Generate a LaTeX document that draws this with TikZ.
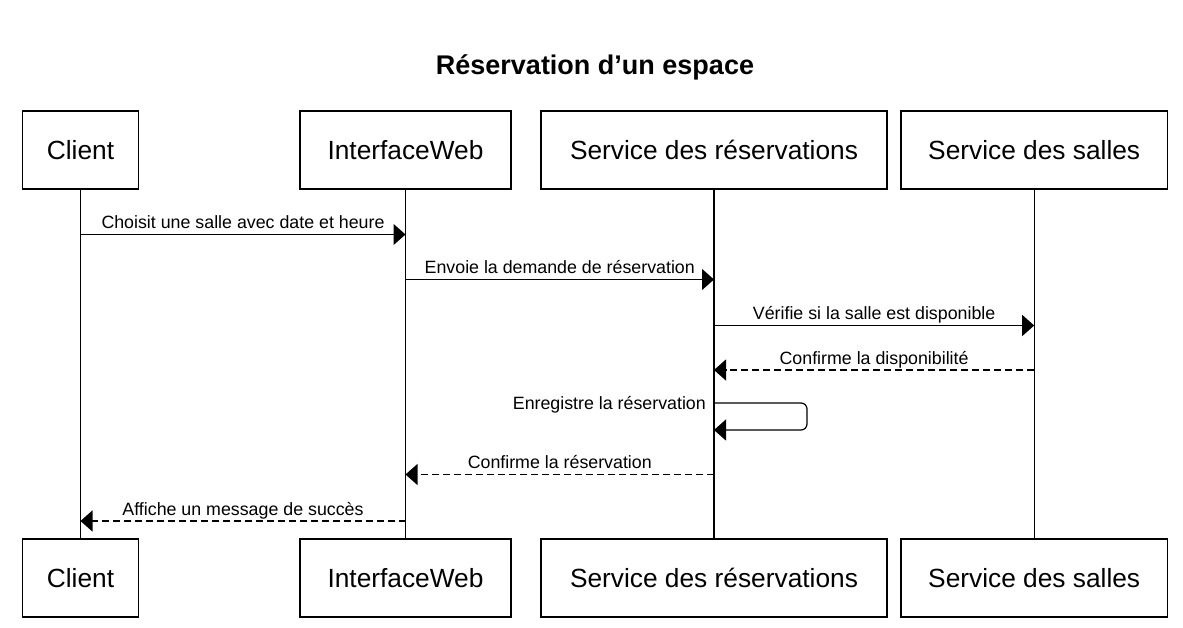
\documentclass[tikz,border=0pt]{standalone}
\usepackage{fontspec}
\setmainfont{Liberation Sans}
\usetikzlibrary{arrows.meta,calc}
\tikzset{
  actor/.style={draw=black, line width=1.2pt, minimum height=78pt, inner sep=0pt, font=\fontsize{26.3}{30}\selectfont},
  life/.style={draw=black, line width=1.2pt},
  msg/.style={draw=black, line width=1.2pt, -{Triangle[length=12pt,width=21pt]}},
  ret/.style={msg, dash pattern=on 7pt off 4pt},
  lbl/.style={font=\fontsize{17.8}{20}\selectfont, inner sep=0pt, anchor=base, yshift=6pt},
  ttl/.style={font=\fontsize{27}{30}\selectfont\bfseries, inner sep=0pt, anchor=base}
}
\begin{document}
\begin{tikzpicture}[x=1pt,y=-1pt]
\useasboundingbox (0,0) rectangle (1183,628);
% title
\node[ttl] (title) at (595,75) {Réservation d’un espace};
% top actors
\node[actor, minimum width=115.6pt] (c1) at (80.5,150) {Client};
\node[actor, minimum width=211pt] (w1) at (405.5,150) {InterfaceWeb};
\node[actor, minimum width=346pt] (r1) at (714,150) {Service des réservations};
\node[actor, minimum width=266.3pt] (s1) at (1034.2,150) {Service des salles};
% bottom actors
\node[actor, minimum width=115.6pt] (c2) at (80.5,578) {Client};
\node[actor, minimum width=211pt] (w2) at (405.5,578) {InterfaceWeb};
\node[actor, minimum width=346pt] (r2) at (714,578) {Service des réservations};
\node[actor, minimum width=266.3pt] (s2) at (1034.2,578) {Service des salles};
% lifelines
\draw[life] (c1.south) -- (c2.north);
\draw[life] (w1.south) -- (w2.north);
\draw[life] (r1.south) -- (r2.north);
\draw[life] (s1.south) -- (s2.north);
% message end points
\coordinate (m1a) at (80.5,234.5);  \coordinate (m1b) at (405.5,234.5);
\coordinate (m2a) at (405.5,279.5); \coordinate (m2b) at (714,279.5);
\coordinate (m3a) at (714,325.5);   \coordinate (m3b) at (1034.2,325.5);
\coordinate (m4a) at (1034.2,370);  \coordinate (m4b) at (714,370);
\coordinate (m5a) at (714,403);     \coordinate (m5c) at (807,430);  \coordinate (m5b) at (714,430);
\coordinate (m6a) at (714,474.5);   \coordinate (m6b) at (405.5,474.5);
\coordinate (m7a) at (405.5,521);   \coordinate (m7b) at (80.5,521);
% messages
\draw[msg] (m1a) -- node[lbl] (l1) {Choisit une salle avec date et heure} (m1b);
\draw[msg] (m2a) -- node[lbl] (l2) {Envoie la demande de réservation} (m2b);
\draw[msg] (m3a) -- node[lbl] (l3) {Vérifie si la salle est disponible} (m3b);
\draw[ret] (m4a) -- node[lbl] (l4) {Confirme la disponibilité} (m4b);
\draw[msg, rounded corners=6pt] (m5a) -| (m5c) -- (m5b);
\node[font=\fontsize{17.8}{20}\selectfont, inner sep=0pt, anchor=base east] (l5) at (706,409.5) {Enregistre la réservation};
\draw[ret] (m6a) -- node[lbl] (l6) {Confirme la réservation} (m6b);
\draw[ret] (m7a) -- node[lbl] (l7) {Affiche un message de succès} (m7b);
\end{tikzpicture}
\end{document}
